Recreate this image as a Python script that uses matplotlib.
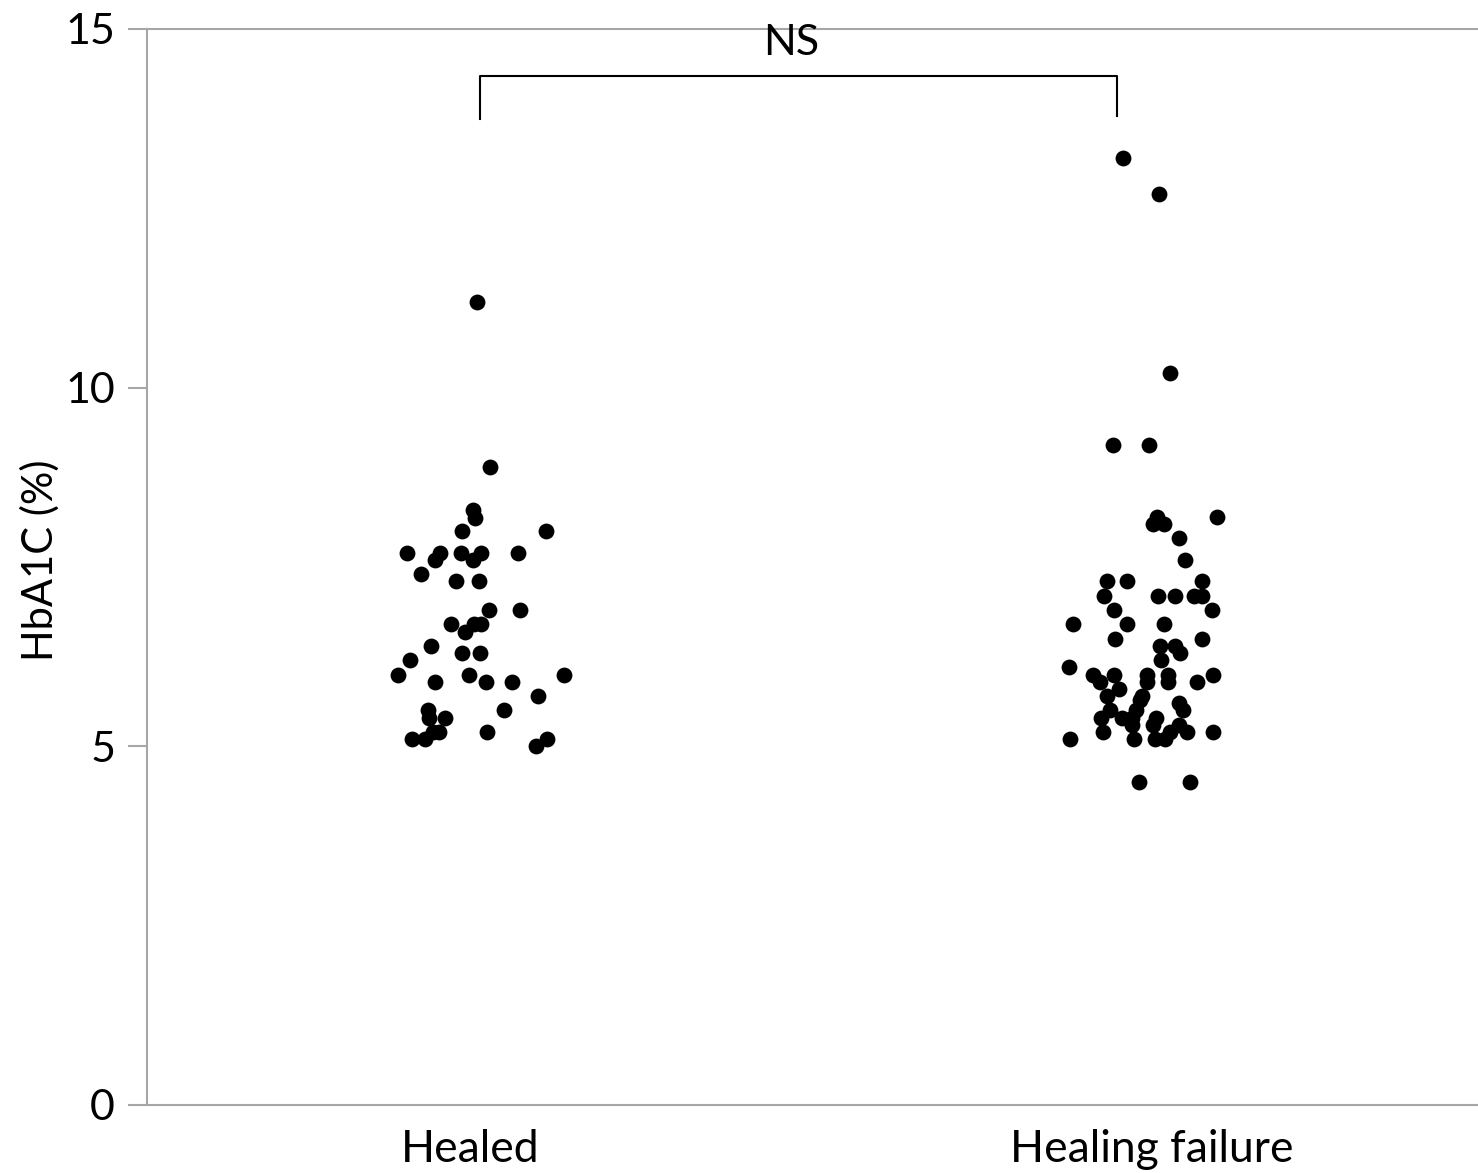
import matplotlib.pyplot as plt

plt.rcParams['font.family'] = ['Lato', 'DejaVu Sans']

# categories and y values
categories = ['Healed', 'Healing failure']

healed_y = [11.2, 8.9, 8.3, 8.19, 8.0, 8.0, 7.7, 7.7, 7.6, 7.7, 7.7, 7.6, 7.7,
            7.4, 7.3, 7.3, 6.9, 6.9, 6.7, 6.6, 6.7, 6.7, 6.4, 6.2, 6.3, 6.3,
            6.0, 5.9, 6.0, 5.9, 5.9, 6.0, 5.7, 5.5, 5.4, 5.4, 5.5, 5.2, 5.2,
            5.2, 5.1, 5.1, 5.1, 5.0]
# horizontal jitter (category units) as seen in the picture
healed_dx = [0.010, 0.030, 0.005, 0.008, -0.011, 0.111, -0.093, -0.044, -0.051,
             -0.013, 0.016, 0.005, 0.070, -0.072, -0.021, 0.013, 0.028, 0.073,
             -0.028, -0.007, 0.006, 0.016, -0.057, -0.088, -0.012, 0.015,
             -0.105, -0.052, -0.002, 0.023, 0.062, 0.138, 0.099, -0.061,
             -0.060, -0.036, 0.050, -0.054, -0.045, 0.025, -0.085, -0.066,
             0.113, 0.097]

failure_y = [13.2, 12.7, 10.2, 9.2, 9.2, 8.2, 8.1, 8.1, 8.2, 7.9, 7.6, 7.3,
             7.3, 7.3, 7.1, 7.1, 7.1, 7.1, 7.1, 6.9, 6.9, 6.7, 6.7, 6.7, 6.5,
             6.5, 6.4, 6.4, 6.3, 6.2, 6.1, 6.0, 6.0, 6.0, 6.0, 6.0, 5.9, 5.8,
             5.9, 5.9, 5.9, 5.7, 5.7, 5.65, 5.5, 5.4, 5.6, 5.5, 5.5, 5.4, 5.4,
             5.4, 5.3, 5.3, 5.3, 5.2, 5.2, 5.2, 5.2, 5.1, 5.1, 5.1, 5.1, 4.5,
             4.5]
failure_dx = [-0.043, 0.011, 0.027, -0.057, -0.005, 0.007, 0.017, 0.001, 0.095,
              0.040, 0.048, -0.066, -0.037, 0.074, -0.071, 0.009, 0.034, 0.061,
              0.073, -0.056, 0.088, -0.116, -0.036, 0.018, -0.054, 0.073,
              0.012, 0.034, 0.041, 0.013, -0.121, -0.087, -0.056, -0.008,
              0.024, 0.090, -0.076, -0.049, -0.008, 0.024, 0.066, -0.066,
              -0.014, -0.018, -0.023, -0.030, 0.040, 0.046, -0.062, -0.075,
              -0.044, 0.006, -0.030, 0.002, 0.039, -0.072, 0.051, 0.090, 0.026,
              -0.120, -0.026, 0.004, 0.019, -0.019, 0.056]

yticks = [0, 5, 10, 15]
sig_label = 'NS'

fig = plt.figure(figsize=(14.78, 11.73), dpi=100)
# right edge runs past the canvas, as in the cropped original
ax = fig.add_axes([147 / 1478, 1 - 1105 / 1173, (1510 - 147) / 1478, (1105 - 29) / 1173])

ax.scatter([0 + d for d in healed_dx], healed_y, s=130, color='black', linewidths=0, zorder=3)
ax.scatter([1 + d for d in failure_dx], failure_y, s=130, color='black', linewidths=0, zorder=3)

ax.set_xlim(-0.4736, 1.525)
ax.set_ylim(0, 15)

ax.set_yticks(yticks)
ax.set_yticklabels([str(t) for t in yticks])
ax.set_xticks([0, 1])
ax.set_xticklabels(categories)

ax.tick_params(axis='y', length=14, width=1.5, color='#a6a6a6', pad=9, labelsize=31)
ax.tick_params(axis='x', length=0, pad=17, labelsize=32)

for side in ['left', 'bottom', 'top']:
    ax.spines[side].set_color('#a6a6a6')
    ax.spines[side].set_linewidth(1.5)
ax.spines['right'].set_visible(False)

# significance bracket
ax.plot([0.015, 0.015, -0.051 + 1, -0.051 + 1], [13.75, 14.34, 14.34, 13.79],
        color='black', lw=1.5, zorder=4)
ax.text(0.471, 14.8, sig_label, ha='center', va='center', fontsize=31, zorder=5)

fig.text(40 / 1478, 1 - 560 / 1173, 'HbA1C (%)', rotation=90, ha='center', va='center',
         fontsize=30)

fig.savefig('out.png', dpi=100)
